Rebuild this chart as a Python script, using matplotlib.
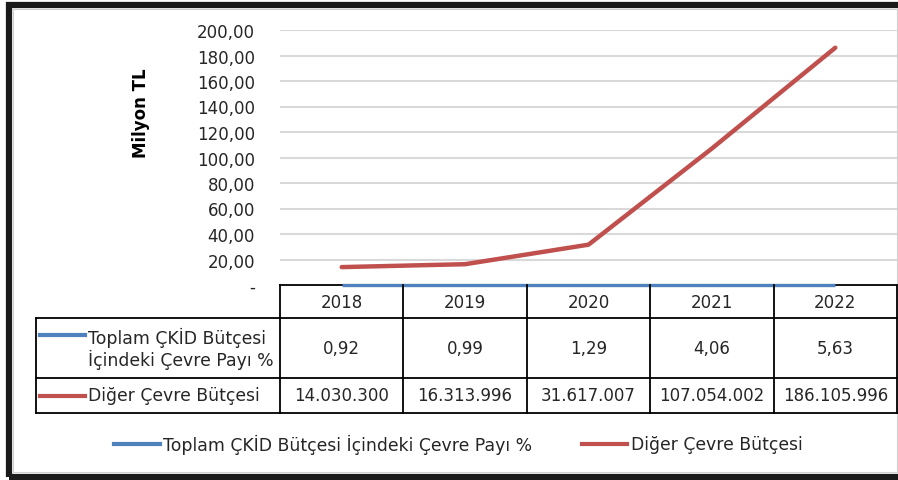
import matplotlib

matplotlib.use("Agg")
import matplotlib.pyplot as plt
from matplotlib import transforms
from matplotlib.lines import Line2D
from matplotlib.patches import Rectangle

years = ["2018", "2019", "2020", "2021", "2022"]
cevre_payi = [0.92, 0.99, 1.29, 4.06, 5.63]
diger_butce = [14030300, 16313996, 31617007, 107054002, 186105996]
cevre_payi_labels = ["0,92", "0,99", "1,29", "4,06", "5,63"]
diger_butce_labels = ["14.030.300", "16.313.996", "31.617.007", "107.054.002", "186.105.996"]
series_names = ["Toplam ÇKİD Bütçesi İçindeki Çevre Payı %", "Diğer Çevre Bütçesi"]
row_labels = ["Toplam ÇKİD Bütçesi\nİçindeki Çevre Payı %", "Diğer Çevre Bütçesi"]
y_ticks = [0, 20, 40, 60, 80, 100, 120, 140, 160, 180, 200]

BLUE = "#4F81BD"
RED = "#C0504D"
TEXT = "#262626"
W, H = 898, 481
NUM_FS = 12
LBL_FS = 12.4

plt.rcParams["font.family"] = ["DejaVu Sans"]


def fx(px):
	return px / W


def fy(py):
	return 1 - py / H


fig = plt.figure(figsize=(W / 100, H / 100), dpi=100)
ax = fig.add_axes([fx(280), fy(286), fx(897) - fx(280), fy(31) - fy(286)])

# Excel "display units: millions" applies to both series on the axis
xs = range(len(years))
ax.axhline(0, color="black", lw=1.3, zorder=2, clip_on=False)
ax.plot(xs, [v / 1e6 for v in cevre_payi], color=BLUE, lw=2.4, solid_capstyle="butt", zorder=3, clip_on=False)
ax.plot(xs, [v / 1e6 for v in diger_butce], color=RED, lw=3.2, solid_capstyle="round", zorder=4)

ax.set_xlim(-0.5, len(years) - 0.5)
ax.set_ylim(0, 200)
ax.set_yticks(y_ticks)
ax.set_yticklabels(["-" if v == 0 else f"{v},00" for v in y_ticks], fontsize=NUM_FS, color=TEXT)
ax.tick_params(axis="y", length=0, pad=18)
ax.set_xticks([])
for s in ax.spines.values():
	s.set_visible(False)
for v in y_ticks[1:]:
	ax.axhline(v, color="#d9d9d9", lw=1.5, zorder=1)
ax.set_ylabel("Milyon TL", fontsize=12, fontweight="bold")
ax.yaxis.set_label_coords((150 - 280) / (897 - 280), (286 - 113) / (286 - 31))

# data table under the plot, columns follow the category axis
tr = transforms.blended_transform_factory(ax.transData, fig.transFigure)
rows_y = [286, 319, 379, 414]
n = len(years)
left_px = 36


def fig_line(xd, yd, transform=fig.transFigure, color="black", lw=1.3):
	fig.add_artist(Line2D(xd, yd, transform=transform, color=color, lw=lw))


for py in rows_y[1:]:
	fig_line([fx(left_px), fx(897)], [fy(py), fy(py)])
for i in range(n + 1):
	fig_line([i - 0.5, i - 0.5], [fy(rows_y[0]), fy(rows_y[-1])], transform=tr)
fig_line([fx(left_px)] * 2, [fy(rows_y[1]), fy(rows_y[-1])])

for i, yr in enumerate(years):
	fig.text(i, fy(303), yr, transform=tr, ha="center", va="center", fontsize=NUM_FS, color=TEXT)
	fig.text(i, fy(349), cevre_payi_labels[i], transform=tr, ha="center", va="center", fontsize=NUM_FS, color=TEXT)
	fig.text(i, fy(396), diger_butce_labels[i], transform=tr, ha="center", va="center", fontsize=NUM_FS, color=TEXT)

fig_line([fx(40), fx(85)], [fy(336)] * 2, color=BLUE, lw=3)
fig.text(fx(88), fy(349), row_labels[0], ha="left", va="center", fontsize=LBL_FS, color=TEXT, linespacing=1.15)
fig_line([fx(40), fx(85)], [fy(397)] * 2, color=RED, lw=3)
fig.text(fx(88), fy(396), row_labels[1], ha="left", va="center", fontsize=LBL_FS, color=TEXT)

# legend
fig_line([fx(114), fx(160)], [fy(445)] * 2, color=BLUE, lw=3)
fig.text(fx(163), fy(445), series_names[0], ha="left", va="center", fontsize=LBL_FS, color=TEXT)
fig_line([fx(582), fx(627)], [fy(445)] * 2, color=RED, lw=3)
fig.text(fx(631), fy(445), series_names[1], ha="left", va="center", fontsize=LBL_FS, color=TEXT)

# frame
fig.add_artist(Rectangle((fx(9), fy(478)), fx(W + 60) - fx(9), fy(6) - fy(478), transform=fig.transFigure,
	fill=False, ec="#1a1a1a", lw=4.5))
fig.add_artist(Rectangle((fx(12.5), fy(473)), fx(896.5) - fx(12.5), fy(9.5) - fy(473), transform=fig.transFigure,
	fill=False, ec="#d0d0d0", lw=0.8))

fig.savefig("out.png", dpi=100)
